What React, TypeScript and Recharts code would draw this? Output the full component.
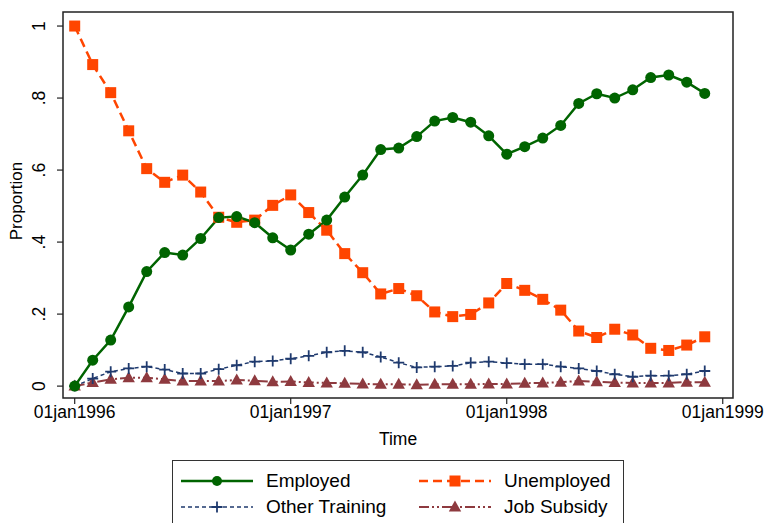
import React from 'react';
import { LineChart, Line, XAxis, YAxis, ReferenceArea } from 'recharts';

// monthly observations, Jan 1996 .. Dec 1998
const months = [
  '1996-01', '1996-02', '1996-03', '1996-04', '1996-05', '1996-06',
  '1996-07', '1996-08', '1996-09', '1996-10', '1996-11', '1996-12',
  '1997-01', '1997-02', '1997-03', '1997-04', '1997-05', '1997-06',
  '1997-07', '1997-08', '1997-09', '1997-10', '1997-11', '1997-12',
  '1998-01', '1998-02', '1998-03', '1998-04', '1998-05', '1998-06',
  '1998-07', '1998-08', '1998-09', '1998-10', '1998-11', '1998-12',
];

const employed = [
  0, 0.072, 0.128, 0.22, 0.318, 0.371, 0.364, 0.41, 0.468, 0.471, 0.454, 0.412,
  0.378, 0.422, 0.461, 0.525, 0.586, 0.657, 0.661, 0.693, 0.736, 0.746, 0.733, 0.695,
  0.644, 0.665, 0.689, 0.724, 0.785, 0.812, 0.8, 0.823, 0.857, 0.864, 0.844, 0.813,
];
const unemployed = [
  1, 0.893, 0.815, 0.709, 0.604, 0.566, 0.586, 0.539, 0.469, 0.455, 0.461, 0.502,
  0.531, 0.482, 0.433, 0.368, 0.315, 0.256, 0.271, 0.251, 0.206, 0.193, 0.199, 0.231,
  0.285, 0.266, 0.241, 0.211, 0.153, 0.135, 0.158, 0.142, 0.105, 0.099, 0.114, 0.137,
];
const otherTraining = [
  0, 0.021, 0.04, 0.049, 0.054, 0.046, 0.035, 0.035, 0.047, 0.058, 0.068, 0.07,
  0.076, 0.084, 0.094, 0.098, 0.094, 0.081, 0.065, 0.052, 0.054, 0.056, 0.065, 0.068,
  0.064, 0.061, 0.061, 0.054, 0.049, 0.042, 0.033, 0.026, 0.029, 0.029, 0.033, 0.042,
];
const jobSubsidy = [
  0, 0.01, 0.019, 0.023, 0.023, 0.019, 0.014, 0.014, 0.014, 0.017, 0.015, 0.012,
  0.013, 0.01, 0.009, 0.008, 0.006, 0.005, 0.005, 0.004, 0.005, 0.005, 0.005, 0.006,
  0.006, 0.008, 0.009, 0.011, 0.014, 0.012, 0.01, 0.009, 0.009, 0.009, 0.011, 0.011,
];

const xTicks = [0, 12, 24, 36];
const xTickLabels = ['01jan1996', '01jan1997', '01jan1998', '01jan1999'];
const yTicks = [0, 0.2, 0.4, 0.6, 0.8, 1];
const yTickLabels = ['0', '.2', '.4', '.6', '.8', '1'];

const X_DOMAIN: [number, number] = [-0.65, 36.57];
const Y_DOMAIN: [number, number] = [-0.033, 1.039];

const FONT = '"Liberation Sans", Arial, sans-serif';
const GREEN = '#006400';
const ORANGE = '#ff4500';
const NAVY = '#1f3a6e';
const MAROON = '#8e3a3f';

const data = months.map((m, i) => ({
  t: i,
  month: m,
  employed: employed[i],
  unemployed: unemployed[i],
  otherTraining: otherTraining[i],
  jobSubsidy: jobSubsidy[i],
}));

// marker shapes
const CircleDot = (p: any) =>
  p.cx == null ? null : <circle key={p.key} cx={p.cx} cy={p.cy} r={5.5} fill={GREEN} />;
const SquareDot = (p: any) =>
  p.cx == null ? null : <rect key={p.key} x={p.cx - 5.5} y={p.cy - 5.5} width={11} height={11} fill={ORANGE} />;
const PlusDot = (p: any) =>
  p.cx == null ? null : (
    <path key={p.key} d={`M${p.cx - 5.5},${p.cy}H${p.cx + 5.5}M${p.cx},${p.cy - 5.5}V${p.cy + 5.5}`}
      stroke={NAVY} strokeWidth={1.8} fill="none" />
  );
const TriDot = (p: any) =>
  p.cx == null ? null : (
    <path key={p.key} d={`M${p.cx},${p.cy - 6.5}L${p.cx + 6.2},${p.cy + 4.5}L${p.cx - 6.2},${p.cy + 4.5}Z`} fill={MAROON} />
  );

const YTick = (p: any) => {
  const i = yTicks.indexOf(p.payload.value);
  const x = p.x - 10;
  return (
    <text x={x} y={p.y} transform={`rotate(-90 ${x} ${p.y})`} textAnchor="middle"
      fontFamily={FONT} fontSize={17.5} fill="#000">
      {yTickLabels[i]}
    </text>
  );
};

const YLabel = () => (
  <text x={22} y={201} transform="rotate(-90 22 201)" textAnchor="middle"
    fontFamily={FONT} fontSize={17} fill="#000">
    Proportion
  </text>
);

function LegendSample({ kind }: { kind: string }) {
  const cy = 10;
  let line = null;
  let mark = null;
  if (kind === 'employed') {
    line = <line x1={0} x2={72} y1={cy} y2={cy} stroke={GREEN} strokeWidth={2.5} />;
    mark = <circle cx={36} cy={cy} r={5} fill={GREEN} />;
  } else if (kind === 'unemployed') {
    line = <line x1={0} x2={72} y1={cy} y2={cy} stroke={ORANGE} strokeWidth={2.5} strokeDasharray="9 5" />;
    mark = <rect x={30.5} y={cy - 5.5} width={11} height={11} fill={ORANGE} />;
  } else if (kind === 'other') {
    line = <line x1={0} x2={72} y1={cy} y2={cy} stroke={NAVY} strokeWidth={1.5} strokeDasharray="4 3" />;
    mark = <path d={`M30.5,${cy}H41.5M36,${cy - 5.5}V${cy + 5.5}`} stroke={NAVY} strokeWidth={1.8} />;
  } else {
    line = <line x1={0} x2={72} y1={cy} y2={cy} stroke={MAROON} strokeWidth={2} strokeDasharray="10 3 2 3 2 3" />;
    mark = <path d={`M36,${cy - 6.5}L42.2,${cy + 4.5}L29.8,${cy + 4.5}Z`} fill={MAROON} />;
  }
  return (
    <svg width={72} height={20} style={{ display: 'block' }}>
      {line}
      {mark}
    </svg>
  );
}

const legendItems = [
  { kind: 'employed', label: 'Employed', left: 8, top: 9.5 },
  { kind: 'unemployed', label: 'Unemployed', left: 246, top: 9.5 },
  { kind: 'other', label: 'Other Training', left: 8, top: 35.5 },
  { kind: 'subsidy', label: 'Job Subsidy', left: 246, top: 35.5 },
];

export default function App() {
  return (
    <div style={{ position: 'absolute', left: 0, top: 0, width: 768, height: 523, background: '#fff', fontFamily: FONT }}>
      <LineChart width={768} height={523} data={data} margin={{ top: 12, right: 35, bottom: 65, left: 0 }}>
        <XAxis
          dataKey="t"
          type="number"
          domain={X_DOMAIN}
          allowDataOverflow
          ticks={xTicks}
          interval={0}
          tickFormatter={(v: number) => xTickLabels[xTicks.indexOf(v)]}
          tick={{ fontSize: 17.5, fill: '#000', fontFamily: FONT }}
          tickSize={6}
          tickLine={{ stroke: '#222', strokeWidth: 1.2 }}
          axisLine={false}
          height={60}
          label={{ value: 'Time', position: 'insideBottom', offset: 13, fill: '#000', fontSize: 17.5, fontFamily: FONT }}
        />
        <YAxis
          type="number"
          domain={Y_DOMAIN}
          allowDataOverflow
          ticks={yTicks}
          interval={0}
          tick={<YTick />}
          tickSize={6}
          tickLine={{ stroke: '#222', strokeWidth: 1.2 }}
          axisLine={false}
          width={63}
          label={<YLabel />}
        />
        <ReferenceArea
          x1={X_DOMAIN[0]}
          x2={X_DOMAIN[1]}
          y1={Y_DOMAIN[0]}
          y2={Y_DOMAIN[1]}
          fill="none"
          stroke="#222"
          strokeWidth={1.5}
          ifOverflow="visible"
        />
        <Line dataKey="jobSubsidy" stroke={MAROON} strokeWidth={2} strokeDasharray="10 3 2 3 2 3"
          dot={<TriDot />} activeDot={false} isAnimationActive={false} />
        <Line dataKey="otherTraining" stroke={NAVY} strokeWidth={1.5} strokeDasharray="4 3"
          dot={<PlusDot />} activeDot={false} isAnimationActive={false} />
        <Line dataKey="unemployed" stroke={ORANGE} strokeWidth={2.5} strokeDasharray="9 5"
          dot={<SquareDot />} activeDot={false} isAnimationActive={false} />
        <Line dataKey="employed" stroke={GREEN} strokeWidth={2.5}
          dot={<CircleDot />} activeDot={false} isAnimationActive={false} />
      </LineChart>

      <div style={{
        position: 'absolute', left: 172, top: 460, width: 450, height: 62,
        border: '1.5px solid #333', background: '#fff',
      }}>
        {legendItems.map(it => (
          <div key={it.label} style={{
            position: 'absolute', left: it.left, top: it.top, display: 'flex', alignItems: 'center',
            fontSize: 19, color: '#000', whiteSpace: 'nowrap',
          }}>
            <LegendSample kind={it.kind} />
            <span style={{ marginLeft: 13, lineHeight: '20px' }}>{it.label}</span>
          </div>
        ))}
      </div>
    </div>
  );
}
